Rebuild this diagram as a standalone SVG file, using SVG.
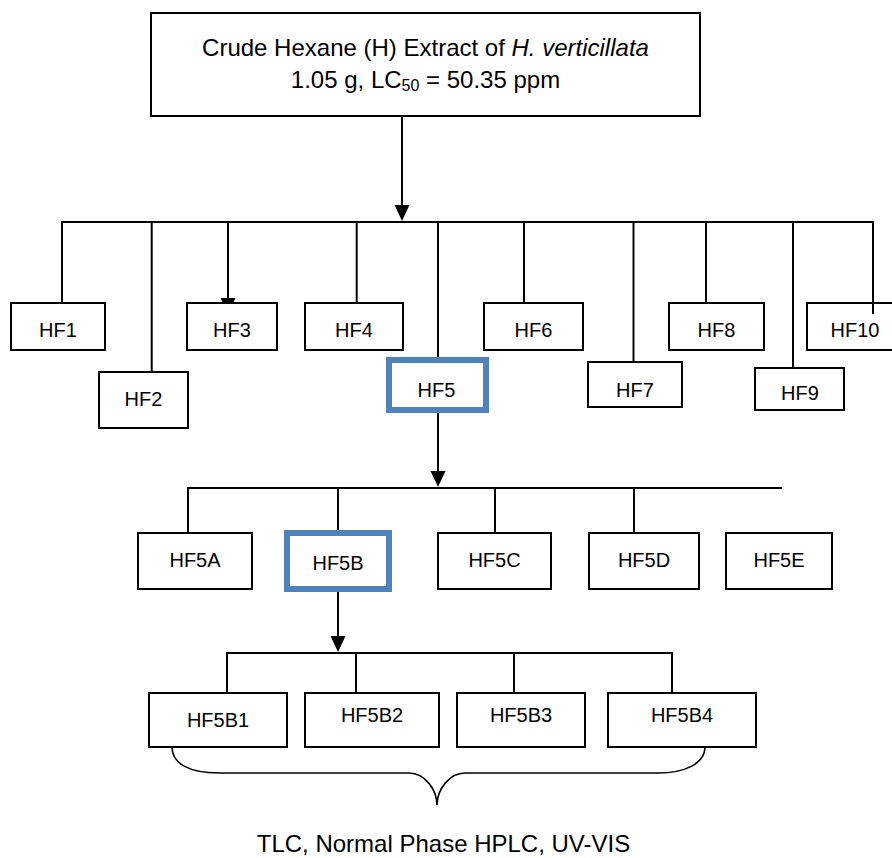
<svg xmlns="http://www.w3.org/2000/svg" width="892" height="858" viewBox="0 0 892 858">
<style>
.box{fill:#fff;stroke:#000;stroke-width:2}
.hl{fill:#fff;stroke:#4F81BD;stroke-width:6}
.lbl{font-family:"Liberation Sans",Arial,sans-serif;font-size:20px;fill:#000;text-anchor:middle}
.ar{font-family:"Liberation Sans",Arial,sans-serif;font-size:24px;fill:#000;text-anchor:middle}
.c{fill:none;stroke:#000;stroke-width:2}
.br{fill:none;stroke:#000;stroke-width:1.6}
</style>
<defs>
<marker id="ah" viewBox="0 0 16 16" refX="13" refY="8" markerWidth="16" markerHeight="16" markerUnits="userSpaceOnUse" orient="auto">
<path d="M0,0.5 L16,8 L0,15.5 z" fill="#000"/>
</marker>
</defs>
<rect width="892" height="858" fill="#fff"/>
<g id="connectors">
<line class="c" x1="402" y1="116" x2="402" y2="218" marker-end="url(#ah)"/>
<polyline class="c" points="62,303 62,222 873,222 873,314"/>
<line class="c" x1="151.7" y1="222" x2="151.7" y2="372"/>
<line class="c" x1="228" y1="222" x2="228" y2="311" marker-end="url(#ah)"/>
<line class="c" x1="356.7" y1="222" x2="356.7" y2="303"/>
<line class="c" x1="438" y1="222" x2="438" y2="357"/>
<line class="c" x1="524" y1="222" x2="524" y2="303"/>
<line class="c" x1="633.5" y1="222" x2="633.5" y2="362"/>
<line class="c" x1="706" y1="222" x2="706" y2="303"/>
<line class="c" x1="793" y1="222" x2="793" y2="368"/>
<line class="c" x1="438" y1="413" x2="438" y2="484" marker-end="url(#ah)"/>
<polyline class="c" points="188,533 188,488 782,488"/>
<line class="c" x1="338" y1="488" x2="338" y2="530"/>
<line class="c" x1="495" y1="488" x2="495" y2="533"/>
<line class="c" x1="634" y1="488" x2="634" y2="533"/>
<line class="c" x1="338" y1="592" x2="338" y2="649" marker-end="url(#ah)"/>
<polyline class="c" points="227,693 227,653 672,653 672,693"/>
<line class="c" x1="356" y1="653" x2="356" y2="693"/>
<line class="c" x1="514" y1="653" x2="514" y2="693"/>
<path class="br" d="M172,747 C172,764 190,773 219,773 L409,773 C425,773 437,790 437,805 C437,790 449,773 465,773 L658,773 C684,773 705,764 705,747"/>
</g>
<g id="root">
<rect class="box" x="151" y="13" width="549" height="103"/>
<text class="ar" x="425.5" y="56">Crude Hexane (H) Extract of <tspan font-style="italic">H. verticillata</tspan></text>
<text class="ar" x="425.5" y="88">1.05 g, LC<tspan font-size="16" dy="3">50</tspan><tspan dy="-3"> = 50.35 ppm</tspan></text>
</g>
<g id="HF1"><rect class="box" x="11" y="303" width="94" height="47"/><text class="lbl" x="58" y="337">HF1</text></g>
<g id="HF2"><rect class="box" x="99" y="372" width="89" height="56"/><text class="lbl" x="143.5" y="406">HF2</text></g>
<g id="HF3"><rect class="box" x="187" y="303" width="90" height="47"/><text class="lbl" x="232" y="337">HF3</text></g>
<g id="HF4"><rect class="box" x="305" y="303" width="98" height="47"/><text class="lbl" x="354" y="337">HF4</text></g>
<g id="HF5"><rect class="hl" x="389" y="360" width="97" height="50"/><text class="lbl" x="436.5" y="397">HF5</text></g>
<g id="HF6"><rect class="box" x="484" y="303" width="99" height="47"/><text class="lbl" x="533.5" y="337">HF6</text></g>
<g id="HF7"><rect class="box" x="588" y="362" width="94" height="45"/><text class="lbl" x="635" y="397">HF7</text></g>
<g id="HF8"><rect class="box" x="669" y="303" width="95" height="47"/><text class="lbl" x="716.5" y="337">HF8</text></g>
<g id="HF9"><rect class="box" x="755" y="368" width="89" height="42"/><text class="lbl" x="800" y="400">HF9</text></g>
<g id="HF10"><rect class="box" x="807" y="303" width="95" height="47" style="fill:none"/><text class="lbl" x="855" y="337">HF10</text></g>
<g id="HF5A"><rect class="box" x="138" y="533" width="114" height="56"/><text class="lbl" x="195" y="567">HF5A</text></g>
<g id="HF5B"><rect class="hl" x="287" y="533" width="102" height="56"/><text class="lbl" x="338" y="570">HF5B</text></g>
<g id="HF5C"><rect class="box" x="438" y="533" width="113" height="56"/><text class="lbl" x="494.5" y="567">HF5C</text></g>
<g id="HF5D"><rect class="box" x="589" y="533" width="110" height="56"/><text class="lbl" x="644" y="567">HF5D</text></g>
<g id="HF5E"><rect class="box" x="726" y="533" width="106" height="56"/><text class="lbl" x="779" y="567">HF5E</text></g>
<g id="HF5B1"><rect class="box" x="149" y="693" width="138" height="54"/><text class="lbl" x="218" y="727">HF5B1</text></g>
<g id="HF5B2"><rect class="box" x="305" y="693" width="134" height="54"/><text class="lbl" x="372" y="722">HF5B2</text></g>
<g id="HF5B3"><rect class="box" x="457" y="693" width="128" height="54"/><text class="lbl" x="521" y="722">HF5B3</text></g>
<g id="HF5B4"><rect class="box" x="608" y="693" width="148" height="54"/><text class="lbl" x="682" y="722">HF5B4</text></g>
<g id="note"><text class="ar" x="443.5" y="852">TLC, Normal Phase HPLC, UV-VIS</text></g>
</svg>
